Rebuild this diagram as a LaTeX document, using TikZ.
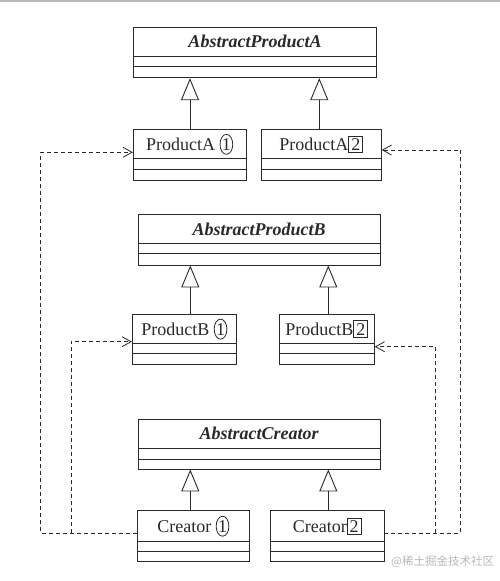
\documentclass[tikz,border=0pt]{standalone}
\usepackage{fontspec}
\setmainfont{Liberation Serif}
\newfontfamily\cjk{Noto Sans CJK SC}
\usetikzlibrary{arrows.meta,shapes.geometric,fit}
\definecolor{ink}{HTML}{2A2A2A}
\newcommand\circone{\tikz[baseline=(o.base)]\node[draw=ink,line width=0.8pt,ellipse,inner sep=0pt,minimum width=12pt,minimum height=20pt](o){1};}
\newcommand\boxtwo{\tikz[baseline=(o.base)]\node[draw=ink,line width=0.8pt,rectangle,inner xsep=2.5pt,inner ysep=2.3pt](o){2};}
\newcommand\umlclass[8]{%
  \node[cls, fit={(#2,#3)(#4,#5)}] (#1) {};
  \draw[clsline] (#1.west |- 0,#6) -- (#1.east |- 0,#6)
                 (#1.west |- 0,#7) -- (#1.east |- 0,#7);
  \node[lbl] (#1-l) at ({(#2+#4)/2},{(#3+#6)/2+6.3}) {#8};
}
\begin{document}
\begin{tikzpicture}[x=1pt,y=-1pt,
  cls/.style={draw=ink,line width=0.9pt,inner sep=0pt,rectangle},
  clsline/.style={draw=ink,line width=0.9pt},
  lbl/.style={anchor=base,inner sep=0pt,text=ink,font=\fontsize{18}{20}\selectfont},
  inh/.style={draw=ink,line width=0.9pt,-{Triangle[open,length=22pt,width=18pt,line width=0.9pt]}},
  dep/.style={draw=ink,line width=0.8pt,dash pattern=on 4pt off 3pt,-{Straight Barb[length=9pt,width=10pt,line width=0.8pt]}},
  deps/.style={draw=ink,line width=0.8pt,dash pattern=on 4pt off 3pt}]
\useasboundingbox (0,0) rectangle (500,581);
\fill[white] (0,0) rectangle (500,581);
\draw[gray!55,line width=2.5pt] (0,1.2) -- (500,1.2);

\umlclass{absA}{133.3}{27.3}{376.7}{77.7}{56}{66.7}{\textbf{\textit{AbstractProductA}}}
\umlclass{pA1}{133.3}{129.3}{246}{180}{158.7}{169.3}{ProductA \circone}
\umlclass{pA2}{261.3}{129.3}{381.3}{180}{158.7}{169.3}{ProductA\boxtwo}

\umlclass{absB}{138.3}{214.3}{380}{265}{243.3}{253.3}{\textbf{\textit{AbstractProductB}}}
\umlclass{pB1}{132.3}{314.3}{236.3}{364.3}{343.3}{353.3}{ProductB \circone}
\umlclass{pB2}{279.3}{314.3}{374.3}{364.3}{343.3}{353.3}{ProductB\boxtwo}

\umlclass{absC}{138.3}{419}{380}{469}{448.3}{459}{\textbf{\textit{AbstractCreator}}}
\umlclass{c1}{137.3}{510.7}{249.3}{561.3}{541}{551}{Creator \circone}
\umlclass{c2}{270.3}{510.7}{384}{561.3}{541}{551}{Creator\boxtwo}

% inheritance
\draw[inh] (190,0 |- pA1.north) -- (190,0 |- absA.south);
\draw[inh] (319.3,0 |- pA2.north) -- (319.3,0 |- absA.south);
\draw[inh] (190.3,0 |- pB1.north) -- (190.3,0 |- absB.south);
\draw[inh] (328.3,0 |- pB2.north) -- (328.3,0 |- absB.south);
\draw[inh] (190.3,0 |- c1.north) -- (190.3,0 |- absC.south);
\draw[inh] (328.3,0 |- c2.north) -- (328.3,0 |- absC.south);

% dependencies
\coordinate (c1out) at (c1.west |- 0,533.3);
\coordinate (c2out) at (c2.east |- 0,533.3);
\coordinate (pA1in) at (pA1.west |- 0,152.3);
\coordinate (pA2in) at (pA2.east |- 0,150);
\coordinate (pB1in) at (pB1.west |- 0,341.7);
\coordinate (pB2in) at (pB2.east |- 0,346.7);
\draw[dep] (c1out) -| (40.7,0 |- pA1in) -- (pA1in);
\draw[dep] (71,0 |- c1out) |- (pB1in);
\draw[dep] (c2out) -| (460.5,0 |- pA2in) -- (pA2in);
\draw[dep] (435,0 |- c2out) |- (pB2in);

\node[anchor=base west,inner sep=0pt,text=gray!55,font=\cjk\fontsize{11.5}{12}\selectfont] (wm) at (391,565) {@稀土掘金技术社区};
\end{tikzpicture}
\end{document}
